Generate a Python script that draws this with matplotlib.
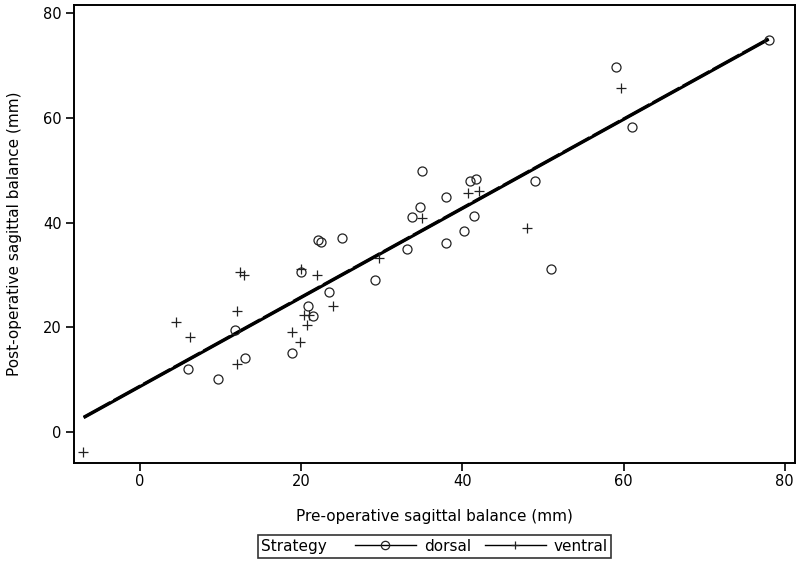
import matplotlib.pyplot as plt
import numpy as np
from matplotlib.lines import Line2D
from matplotlib.offsetbox import HPacker

# values (mm)
dorsal_pre = [78.0, 59.1, 61.0, 35.0, 41.0, 41.7, 49.0, 38.0, 34.8, 33.8,
              41.5, 40.2, 38.0, 33.1, 22.1, 22.4, 25.0, 51.0, 29.1, 20.0,
              23.5, 20.9, 21.4, 11.8, 18.9, 13.0, 6.0, 9.7]
dorsal_post = [74.9, 69.7, 58.3, 49.9, 47.9, 48.4, 48.0, 44.9, 42.9, 41.1,
               41.3, 38.3, 36.0, 35.0, 36.6, 36.2, 37.0, 31.1, 29.0, 30.5,
               26.7, 24.0, 22.2, 19.4, 15.0, 14.1, 12.0, 10.1]

ventral_pre = [59.7, 40.7, 42.0, 35.0, 48.0, 29.6, 12.4, 12.9, 20.0, 22.0,
               12.0, 24.0, 4.4, 6.2, 20.3, 21.0, 20.7, 18.9, 19.9, 12.0, -7.1]
ventral_post = [65.7, 45.7, 46.0, 40.9, 38.9, 33.3, 30.5, 30.0, 31.1, 30.0,
                23.1, 24.0, 21.0, 18.1, 22.3, 22.3, 20.4, 19.1, 17.2, 13.0, -3.9]

# fitted lines (end points)
fit_pre = [-7.0, 78.0]
fit_dorsal = [2.7, 75.0]
fit_ventral = [2.8, 75.1]

fig = plt.figure(figsize=(8, 5.66), dpi=100)
ax = fig.add_axes([0.0925, 0.1825, 0.9015, 0.809])

ax.plot(fit_pre, fit_dorsal, color='black', lw=2.2, solid_capstyle='butt')
ax.plot(fit_pre, fit_ventral, color='black', lw=2.2, dashes=(10, 1.2))
ax.plot(dorsal_pre, dorsal_post, 'o', ls='none', ms=6.5, mfc='none',
        mec='#222222', mew=0.9)
ax.plot(ventral_pre, ventral_post, '+', ls='none', ms=6.5,
        mec='#222222', mew=0.9)

ax.set_xlim(-8.2, 81.3)
ax.set_ylim(-5.9, 81.6)
ax.set_xticks([0, 20, 40, 60, 80])
ax.set_yticks([0, 20, 40, 60, 80])
ax.tick_params(direction='out', length=5.8, width=1.2, labelsize=10.5)
ax.tick_params(axis='x', pad=2.5)
ax.tick_params(axis='y', pad=3)
for s in ax.spines.values():
    s.set_linewidth(1.4)

ax.set_xlabel("Pre-operative sagittal balance (mm)", fontsize=11, labelpad=14)
ax.set_ylabel("Post-operative sagittal balance (mm)", fontsize=11, labelpad=15)

handles = [
    Line2D([], [], color='black', lw=1, marker='o', ms=6, mfc='none', mec='#222222', mew=0.9),
    Line2D([], [], color='black', lw=1, marker='+', ms=6, mec='#222222', mew=0.9),
]
leg = fig.legend(handles, ['dorsal', 'ventral'], title='Strategy', ncol=2,
                 loc='center', bbox_to_anchor=(0.543, 0.035), frameon=True,
                 fancybox=False, edgecolor='black', fontsize=11, title_fontsize=11,
                 handlelength=4.0, handletextpad=0.5, columnspacing=0.9,
                 borderpad=0.25, borderaxespad=0)
leg.get_frame().set_linewidth(1.2)
# put the title to the left of the entries
title_box = leg._legend_box._children[0]
handle_box = leg._legend_box._children[1]
row = HPacker(pad=0, sep=20, align='center', children=[title_box, handle_box])
leg._legend_box._children = [row]

plt.savefig('out.png', dpi=100)
